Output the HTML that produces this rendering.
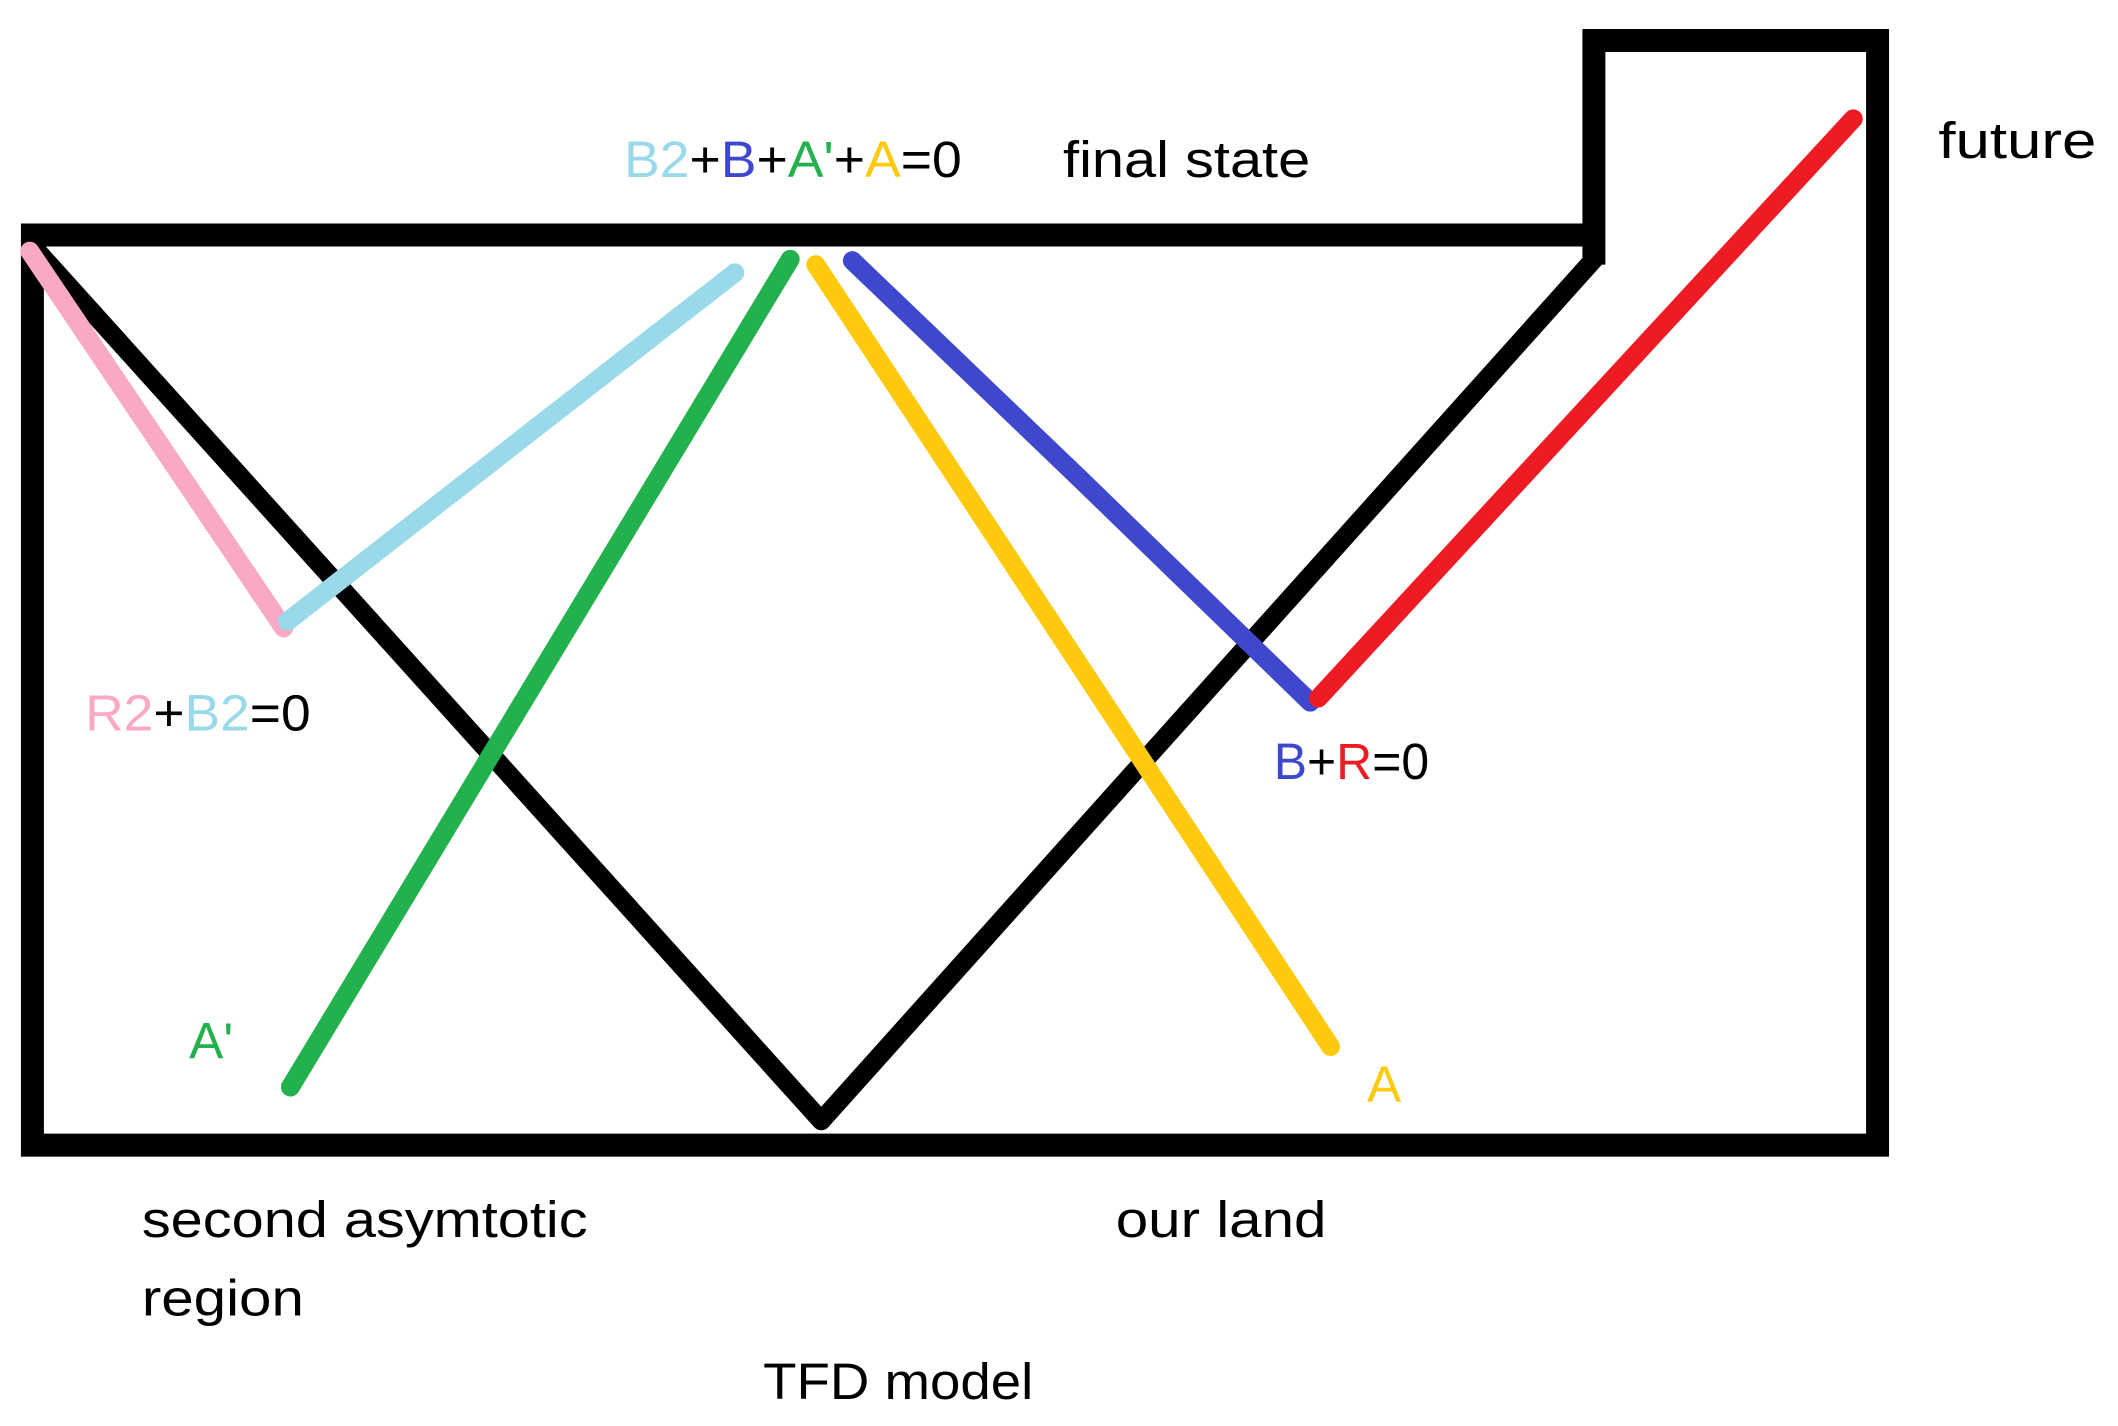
<!DOCTYPE html>
<html><head><meta charset="utf-8"><style>html,body{margin:0;padding:0;background:#fff}svg{display:block}text{font-family:"Liberation Sans",sans-serif;font-size:38px}</style></head>
<body>
<svg width="2118" height="1426" viewBox="0 0 1568 1056" preserveAspectRatio="none" xmlns="http://www.w3.org/2000/svg">
<g fill="none" stroke-linecap="butt" stroke-linejoin="miter">
<path d="M1180 196 L1180 30 L1390 30 L1390 848 L24 848 L24 174 L1180 174" stroke="#000" stroke-width="17"/>
</g>
<g fill="none" stroke-linecap="round" stroke-linejoin="round" stroke-width="14">
<path d="M24 182 L608 830 L1180 192" stroke="#000"/>
<path d="M22 186 L210 465" stroke="#f9a8c6"/>
<path d="M213 460 L544 202" stroke="#99d9ea"/>
<path d="M585 192 L215 805" stroke="#22b14c"/>
<path d="M604 196 L985 775" stroke="#ffc90e"/>
<path d="M631 193 L800 355 L970 520" stroke="#3f48cc"/>
<path d="M976 517 L1372 88" stroke="#ed1c24"/>
</g>
<text x="462" y="131" textLength="250" lengthAdjust="spacingAndGlyphs"><tspan fill="#99d9ea">B2</tspan><tspan fill="#000">+</tspan><tspan fill="#3f48cc">B</tspan><tspan fill="#000">+</tspan><tspan fill="#22b14c">A'</tspan><tspan fill="#000">+</tspan><tspan fill="#ffc90e">A</tspan><tspan fill="#000">=0</tspan></text>
<text x="787" y="131" textLength="183" lengthAdjust="spacingAndGlyphs">final state</text>
<text x="1435" y="117" textLength="117" lengthAdjust="spacingAndGlyphs">future</text>
<text x="63" y="541" textLength="167" lengthAdjust="spacingAndGlyphs"><tspan fill="#f9a8c6">R2</tspan><tspan>+</tspan><tspan fill="#99d9ea">B2</tspan><tspan>=0</tspan></text>
<text x="943" y="577" textLength="115" lengthAdjust="spacingAndGlyphs"><tspan fill="#3f48cc">B</tspan><tspan>+</tspan><tspan fill="#ed1c24">R</tspan><tspan>=0</tspan></text>
<text x="140" y="784" fill="#22b14c">A'</text>
<text x="1012" y="816" fill="#ffc90e">A</text>
<text x="105" y="916" textLength="330" lengthAdjust="spacingAndGlyphs">second asymtotic</text>
<text x="105" y="974" textLength="120" lengthAdjust="spacingAndGlyphs">region</text>
<text x="826" y="916" textLength="156" lengthAdjust="spacingAndGlyphs">our land</text>
<text x="565" y="1036" textLength="200" lengthAdjust="spacingAndGlyphs">TFD model</text>
</svg>
</body></html>
